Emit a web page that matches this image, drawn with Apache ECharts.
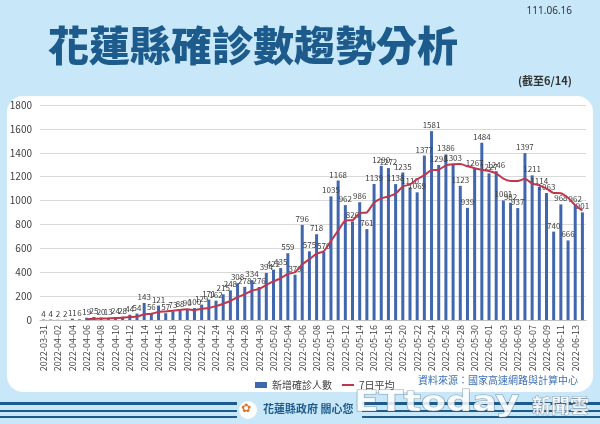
<!DOCTYPE html>
<html><head><meta charset="utf-8">
<script src="https://cdn.jsdelivr.net/npm/echarts@6/dist/echarts.min.js"></script>
<style>html,body{margin:0;padding:0;background:#c8e8fa;}#c{width:600px;height:424px;}</style>
</head><body><div id="c"></div>
<script>
const dates = ['2022-03-31','2022-04-01','2022-04-02','2022-04-03','2022-04-04','2022-04-05','2022-04-06','2022-04-07','2022-04-08','2022-04-09','2022-04-10','2022-04-11','2022-04-12','2022-04-13','2022-04-14','2022-04-15','2022-04-16','2022-04-17','2022-04-18','2022-04-19','2022-04-20','2022-04-21','2022-04-22','2022-04-23','2022-04-24','2022-04-25','2022-04-26','2022-04-27','2022-04-28','2022-04-29','2022-04-30','2022-05-01','2022-05-02','2022-05-03','2022-05-04','2022-05-05','2022-05-06','2022-05-07','2022-05-08','2022-05-09','2022-05-10','2022-05-11','2022-05-12','2022-05-13','2022-05-14','2022-05-15','2022-05-16','2022-05-17','2022-05-18','2022-05-19','2022-05-20','2022-05-21','2022-05-22','2022-05-23','2022-05-24','2022-05-25','2022-05-26','2022-05-27','2022-05-28','2022-05-29','2022-05-30','2022-05-31','2022-06-01','2022-06-02','2022-06-03','2022-06-04','2022-06-05','2022-06-06','2022-06-07','2022-06-08','2022-06-09','2022-06-10','2022-06-11','2022-06-12','2022-06-13','2022-06-14'];
const newCases = [4,4,2,2,11,6,19,25,20,13,24,28,44,54,143,56,121,57,73,88,90,100,129,171,162,215,248,308,278,334,276,394,422,435,559,379,796,575,718,570,1035,1168,962,826,986,761,1139,1290,1272,1138,1235,1110,1069,1377,1581,1298,1386,1303,1123,939,1267,1484,1227,1246,1001,982,937,1397,1211,1114,1063,740,968,666,962,901];
const avg7 = ['-','-','-','-','-','-',6.9,9.9,12.1,13.7,16.9,19.3,24.7,29.7,46.6,51.7,67.1,71.9,78.3,84.6,89.7,83.6,94.0,101.1,116.1,136.4,159.3,190.4,215.9,245.1,260.1,293.3,322.9,349.6,385.4,399.9,465.9,508.6,554.9,576.0,661.7,748.7,832.0,836.3,895.0,901.1,982.4,1018.9,1033.7,1058.9,1117.3,1135.0,1179.0,1213.0,1254.6,1258.3,1293.7,1303.4,1305.3,1286.7,1271.0,1257.1,1247.0,1227.0,1183.9,1163.7,1163.4,1182.0,1143.0,1126.9,1100.7,1063.4,1061.4,1022.7,960.6,916.3];
const yTicks = [0,200,400,600,800,1000,1200,1400,1600,1800];
const seriesNames = ['新增確診人數','7日平均'];

const chart = echarts.init(document.getElementById('c'), null, {renderer:'canvas'});
const dark = '#1d5b8c';
const stripes = [];
[[0,237],[362,600]].forEach(([a,b])=>{
  [[402,3],[410,2],[416,2]].forEach(([y,w])=>{
    stripes.push({type:'rect',shape:{x:a,y:y,width:b-a,height:w},style:{fill:dark},silent:true});
  });
});
chart.setOption({
  backgroundColor:'#c8e8fa',
  animation:false,
  textStyle:{fontFamily:'"Noto Sans CJK TC","Noto Sans",sans-serif'},
  graphic:[
    {type:'rect',shape:{x:7,y:96,width:586,height:296,r:16},style:{fill:'#ffffff'},z:-10,silent:true},
    ...stripes,
    {type:'text',x:48,y:25,style:{text:'花蓮縣確診數趨勢分析',font:'900 41px "Noto Sans CJK TC"',fill:dark}},
    {type:'text',right:28,top:6,style:{text:'111.06.16',font:'10px "Noto Sans",sans-serif',fill:'#333'}},
    {type:'text',right:28,top:75,style:{text:'(截至6/14)',font:'bold 11px "Noto Sans CJK TC"',fill:'#333'}},
    {type:'text',left:418,top:375,style:{text:'資料來源：國家高速網路與計算中心',font:'10px "Noto Sans CJK TC"',fill:'#3b6fb4'}},
    {type:'circle',shape:{cx:248,cy:410,r:9},style:{fill:'#ffffff'}},
    {type:'text',left:241,top:403,style:{text:'✿',font:'bold 12px "DejaVu Sans"',fill:'#e0732c'}},
    {type:'text',left:263,top:403,style:{text:'花蓮縣政府 關心您',font:'bold 11px "Noto Sans CJK TC"',fill:dark}},
    {type:'text',x:354,y:390,scaleX:1.3,style:{text:'ETtoday',font:'bold 28px "DejaVu Sans"',fill:'rgba(255,255,255,0.85)',stroke:'rgba(90,110,130,0.6)',lineWidth:1}},
    {type:'text',x:532,y:396,style:{text:'新聞雲',font:'bold 19px "Noto Sans CJK TC"',fill:'rgba(255,255,255,0.85)',stroke:'rgba(90,110,130,0.6)',lineWidth:1}}
  ],
  legend:{
    data:[{name:seriesNames[0],icon:'rect'},{name:seriesNames[1],icon:'path://M0,0H12V2H0Z'}],
    left:250, top:375, itemWidth:12, itemHeight:6, itemGap:10,
    textStyle:{fontSize:10,color:'#404040'}
  },
  grid:{left:40,right:14,top:105,bottom:104},
  xAxis:{
    type:'category', data:dates, boundaryGap:true,
    axisLine:{lineStyle:{color:'#bfbfbf'}}, axisTick:{show:false},
    axisLabel:{rotate:90,interval:1,fontSize:9,color:'#404040',margin:5}
  },
  yAxis:{
    type:'value', min:yTicks[0], max:yTicks[yTicks.length-1], interval:200,
    axisLine:{show:false}, axisTick:{show:false},
    axisLabel:{fontSize:10,color:'#404040',margin:8,formatter:v=>String(v)},
    splitLine:{lineStyle:{color:'#d9d9d9'}}
  },
  series:[
    {name:seriesNames[0],type:'bar',data:newCases,barWidth:3,itemStyle:{color:'#4066ad'},
     label:{show:true,position:'top',fontSize:8,color:'#404040',distance:2,formatter:p=>String(p.value)}},
    {name:seriesNames[1],type:'line',data:avg7,symbol:'none',smooth:0.2,
     lineStyle:{color:'#c0364d',width:2},itemStyle:{color:'#c0364d'}}
  ]
});
</script></body></html>
